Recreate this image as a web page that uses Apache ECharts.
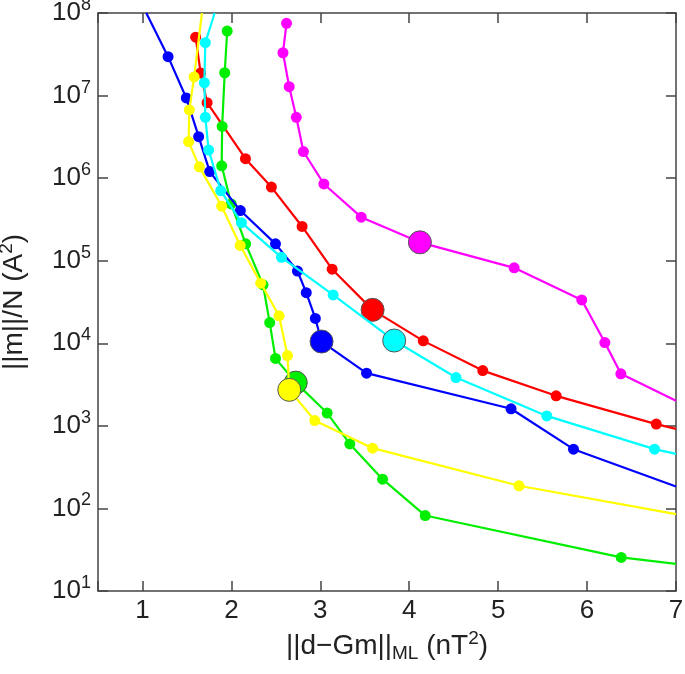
<!DOCTYPE html>
<html><head><meta charset="utf-8">
<script src="https://cdn.jsdelivr.net/npm/echarts@6/dist/echarts.min.js"></script>
<style>html,body{margin:0;padding:0;background:#fff}#c{width:685px;height:674px}</style>
</head><body><div id="c"></div>
<script>
// Data (x = ||d-Gm||_ML, y = ||m||/N)
const magentaX = [2.62, 2.58, 2.65, 2.73, 2.81, 3.04, 3.46, 4.12, 5.18, 5.94, 6.20, 6.38, 7.0];
const magentaY = [7.5e7, 3.3e7, 1.28e7, 5.46e6, 2.1e6, 8.5e5, 3.37e5, 1.67e5, 8.2e4, 3.35e4, 1.02e4, 4.27e3, 2.02e3];
const magentaBig = 7;

const redX = [1.598, 1.654, 1.727, 2.158, 2.45, 2.795, 3.133, 3.588, 4.158, 4.827, 5.652, 6.778, 7.0];
const redY = [5.1e7, 1.88e7, 8.2e6, 1.72e6, 7.8e5, 2.6e5, 7.9e4, 2.54e4, 1.07e4, 4.67e3, 2.31e3, 1.05e3, 920];
const redBig = 7;

const cyanX = [1.812, 1.707, 1.696, 1.707, 1.744, 1.88, 2.113, 2.563, 3.144, 3.831, 4.526, 5.547, 6.759, 7.0];
const cyanY = [1e8, 4.37e7, 1.43e7, 5.46e6, 2.19e6, 7.06e5, 2.89e5, 1.1e5, 3.85e4, 1.08e4, 3.85e3, 1.32e3, 522, 458];
const cyanBig = 9;

const blueX = [1.043, 1.288, 1.493, 1.632, 1.756, 2.101, 2.496, 2.743, 2.842, 2.944, 3.014, 3.52, 5.145, 5.847, 7.0];
const blueY = [1e8, 2.96e7, 9.36e6, 3.18e6, 1.2e6, 4.05e5, 1.6e5, 7.5e4, 4.1e4, 2.0e4, 1.05e4, 4.35e3, 1.61e3, 522, 184];
const blueBig = 10;

const greenX = [1.953, 1.925, 1.896, 1.891, 1.998, 2.161, 2.356, 2.431, 2.496, 2.724, 3.077, 3.332, 3.70, 4.18, 6.384, 7.0];
const greenY = [6.05e7, 1.89e7, 4.23e6, 1.41e6, 4.87e5, 1.6e5, 5.1e4, 1.78e4, 6.56e3, 3.34e3, 1430, 605, 226, 82, 25.5, 21.3];
const greenBig = 9;

const yellowX = [1.669, 1.581, 1.527, 1.519, 1.64, 1.891, 2.099, 2.33, 2.536, 2.631, 2.651, 2.938, 3.588, 5.235, 7.0];
const yellowY = [1e8, 1.68e7, 6.7e6, 2.77e6, 1.37e6, 4.57e5, 1.53e5, 5.35e4, 2.15e4, 7.1e3, 2.73e3, 1160, 537, 188, 85.3];
const yellowBig = 10;

const xMin = 0.5, xMax = 7, yMin = 10, yMax = 1e8;

const FONT = 'Liberation Sans';
const chart = echarts.init(document.getElementById('c'), null, {renderer: 'canvas'});

function mk(name, color, xs, ys, big, z) {
  const data = xs.map((x, i) => {
    const y = ys[i];
    const edge = (x >= xMax || y >= yMax);
    const item = {value: [x, y]};
    if (edge) { item.symbol = 'none'; item.symbolSize = 0; }
    else if (i === big) {
      item.symbolSize = 23;
      item.itemStyle = {color: color, borderColor: '#555', borderWidth: 1};
    }
    return item;
  });
  return {
    name, type: 'line', data, z,
    symbol: 'circle', symbolSize: 11, showSymbol: true,
    lineStyle: {color, width: 2.2},
    itemStyle: {color, borderWidth: 0},
    emphasis: {disabled: true},
    clip: true
  };
}

const axisLineStyle = {color: '#444', width: 1.5};
const tick = {show: true, inside: true, length: 10, lineStyle: {color: '#444', width: 1.5}};

chart.setOption({
  animation: false,
  backgroundColor: '#fff',
  grid: {left: 98, top: 13, right: 9, bottom: 83, containLabel: false, outerBoundsMode: 'none'},
  xAxis: [{
    type: 'value', min: xMin, max: xMax, minInterval: 1, maxInterval: 1,
    axisLine: {show: true, lineStyle: axisLineStyle},
    axisTick: tick, splitLine: {show: false},
    axisLabel: {
      fontFamily: FONT, fontSize: 26, color: '#222', margin: 7,
      formatter: v => (Math.abs(v - Math.round(v)) < 1e-9 ? String(Math.round(v)) : '')
    },
    name: '||d\u2212Gm||{sub|ML} (nT{sup|2})',
    nameLocation: 'middle', nameGap: 27,
    nameTextStyle: {
      fontFamily: FONT, fontSize: 28, color: '#222',
      rich: {
        sub: {fontFamily: FONT, fontSize: 19, color: '#222', padding: [14, 0, 0, 0]},
        sup: {fontFamily: FONT, fontSize: 19, color: '#222', padding: [0, 0, 16, 0]}
      }
    }
  }, {
    type: 'value', position: 'top', min: xMin, max: xMax, minInterval: 1, maxInterval: 1,
    axisLine: {show: true, lineStyle: axisLineStyle},
    axisTick: tick, axisLabel: {show: false}, splitLine: {show: false}
  }],
  yAxis: [{
    type: 'log', logBase: 10, min: yMin, max: yMax,
    axisLine: {show: true, lineStyle: axisLineStyle},
    axisTick: tick, splitLine: {show: false}, minorTick: {show: false},
    axisLabel: {
      fontFamily: FONT, fontSize: 26, color: '#222', margin: 7,
      formatter: v => '{b|10}{s|' + Math.round(Math.log10(v)) + '}',
      rich: {
        b: {fontFamily: FONT, fontSize: 26, color: '#222'},
        s: {fontFamily: FONT, fontSize: 18, color: '#222', padding: [0, 0, 16, 0]}
      }
    },
    name: '||m||/N (A{sup|2})',
    nameLocation: 'middle', nameRotate: 90, nameGap: 66,
    nameTextStyle: {
      fontFamily: FONT, fontSize: 28, color: '#222',
      rich: {
        sup: {fontFamily: FONT, fontSize: 19, color: '#222', padding: [0, 0, 16, 0]}
      }
    }
  }, {
    type: 'log', logBase: 10, min: yMin, max: yMax, position: 'right',
    axisLine: {show: true, lineStyle: axisLineStyle},
    axisTick: tick, axisLabel: {show: false}, splitLine: {show: false}
  }],
  series: [
    mk('red', '#ff0000', redX, redY, redBig, 2),
    mk('magenta', '#ff00ff', magentaX, magentaY, magentaBig, 3),
    mk('green', '#00ee00', greenX, greenY, greenBig, 4),
    mk('blue', '#0000ff', blueX, blueY, blueBig, 5),
    mk('cyan', '#00ffff', cyanX, cyanY, cyanBig, 6),
    mk('yellow', '#ffff00', yellowX, yellowY, yellowBig, 7)
  ]
});
</script>
</body></html>
